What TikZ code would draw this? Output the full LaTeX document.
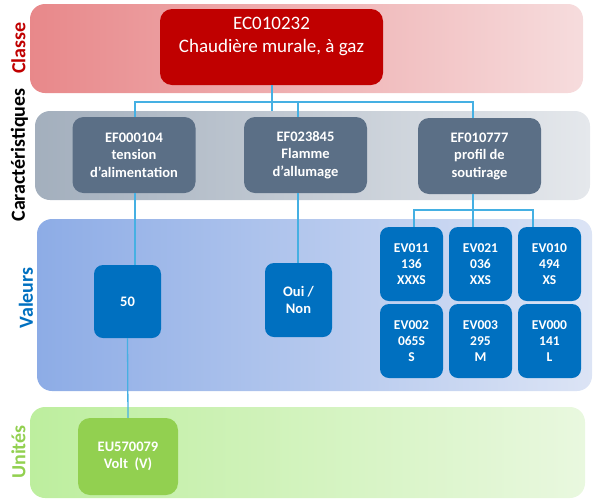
\documentclass[tikz,border=0pt]{standalone}
\usepackage{fontspec}
\setmainfont{Carlito}
\definecolor{ecred}{HTML}{C00000}
\definecolor{efgray}{HTML}{5B6F86}
\definecolor{valblue}{HTML}{0070C0}
\definecolor{eugreen}{HTML}{92D050}
\definecolor{lineblue}{HTML}{45B0E3}
\definecolor{clL}{HTML}{E8888A}
\definecolor{clR}{HTML}{F6DCDD}
\definecolor{caL}{HTML}{A3AFBD}
\definecolor{caR}{HTML}{E5E8EC}
\definecolor{vaL}{HTML}{8DACE6}
\definecolor{vaR}{HTML}{DCE4F5}
\definecolor{unL}{HTML}{BDEE9E}
\definecolor{unR}{HTML}{E9F8DF}
\begin{document}
\begin{tikzpicture}[x=1pt,y=-1pt,
  conn/.style={draw=lineblue,line width=1.3pt},
  ftxt/.style={font=\bfseries\fontsize{14.5}{17.5}\selectfont, text=white, align=center},
  efbox/.style={fill=efgray, rounded corners=11pt, minimum width=123pt, minimum height=76pt, inner sep=0pt, ftxt},
  valbox/.style={fill=valblue, rounded corners=9pt, inner sep=0pt, ftxt},
  evbox/.style={valbox, minimum width=63pt, minimum height=74pt, font=\bfseries\fontsize{13.5}{16}\selectfont},
  band/.style={rounded corners=15pt},
  lab/.style={rotate=90, font=\bfseries\fontsize{20}{24}\selectfont, inner sep=0pt}]
\useasboundingbox (0,0) rectangle (598,499);
% bands
\shade[band, left color=clL, right color=clR] (30,4) rectangle (583,93);
\shade[band, left color=caL, right color=caR] (35,111) rectangle (590,200);
\shade[band, left color=vaL, right color=vaR] (37,219) rectangle (592,391);
\shade[band, left color=unL, right color=unR] (30,407) rectangle (585,498);
% band labels
\node[lab, text=ecred] (lclasse) at (18.5,48) {Classe};
\node[lab, text=black] (lcar) at (19.5,155) {Caractéristiques};
\node[lab, text=valblue] (lval) at (26,298) {Valeurs};
\node[lab, text=eugreen] (luni) at (18.5,452) {Unités};
% nodes
\node[fill=ecred, rounded corners=12pt, minimum width=223pt, minimum height=76pt, inner sep=0pt] (ec) at (271.5,47) {};
\node[text=white, align=center, font=\fontsize{19}{23}\selectfont, inner sep=0pt] (ect) at (271.5,36) {EC010232\\Chaudière murale, à gaz};
\node[efbox] (ef1) at (134,155) {EF000104\\tension\\d'alimentation};
\node[efbox] (ef2) at (305.5,155) {EF023845\\Flamme\\d'allumage};
\node[efbox] (ef3) at (479.5,156) {EF010777\\profil de\\soutirage};
\node[valbox, minimum width=67pt, minimum height=73pt] (v50) at (127.5,301.5) {50};
\node[valbox, minimum width=67pt, minimum height=74pt] (oui) at (298.5,300) {Oui /\\Non};
\node[evbox] (ev1) at (411.5,264) {EV011\\136\\XXXS};
\node[evbox] (ev2) at (480.5,264) {EV021\\036\\XXS};
\node[evbox] (ev3) at (549.5,264) {EV010\\494\\XS};
\node[evbox] (ev4) at (411.5,341) {EV002\\065S\\S};
\node[evbox] (ev5) at (480.5,341) {EV003\\295\\M};
\node[evbox] (ev6) at (549.5,341) {EV000\\141\\L};
\node[fill=eugreen, rounded corners=12pt, minimum width=100pt, minimum height=77pt, inner sep=0pt, ftxt] (eu) at (128,456.5) {EU570079\\Volt\ \ (V)};
% connectors
\coordinate (bL) at (135,102);
\coordinate (bM) at (298,102);
\coordinate (bR) at (473,102);
\coordinate (bC) at (272,102);
\coordinate (cE) at (272,111);
\coordinate (t1) at (414,210);
\coordinate (t3) at (533,210);
\draw[conn] (ec.south -| bC) -- (cE);
\draw[conn] (bL |- ef1.north) -- (bL) -- (bR) -- (bR |- ef3.north);
\draw[conn] (bM) -- (bM |- ef2.north);
\draw[conn] (bL |- ef1.south) -- (bL |- v50.north);
\draw[conn] (v50.south) -- (eu.north);
\draw[conn] (bM |- ef2.south) -- (bM |- oui.north);
\draw[conn] (bR |- ef3.south) -- (bR |- ev2.north);
\draw[conn] (t1 |- ev1.north) -- (t1) -- (t3) -- (t3 |- ev3.north);
\end{tikzpicture}
\end{document}
